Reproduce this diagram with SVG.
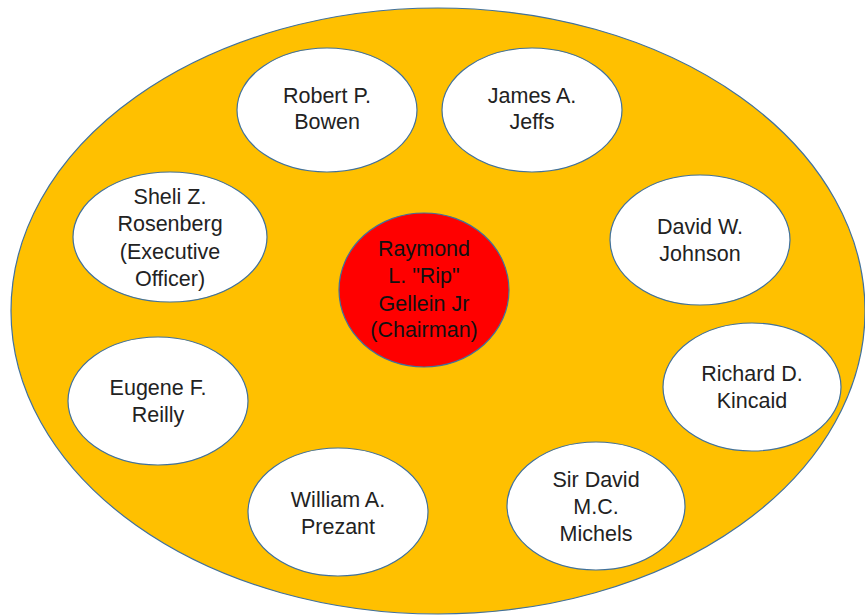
<svg xmlns="http://www.w3.org/2000/svg" width="865" height="615" viewBox="0 0 865 615">
<style>
.bg{fill:#ffffff}
.outer{fill:#FFC000;stroke:#41719C;stroke-width:1.2}
.member{fill:#ffffff;stroke:#41719C;stroke-width:1.2}
.chair{fill:#FF0000;stroke:#41719C;stroke-width:1.2}
text{font-family:"Liberation Sans",Arial,sans-serif;font-size:21.5px;fill:#222222;text-anchor:middle}
.chair-text{fill:#111111}
</style>
<rect class="bg" x="0" y="0" width="865" height="615"/>
<g id="board">
<ellipse class="outer" cx="438" cy="311" rx="427" ry="303"/>
</g>
<g id="node-bowen">
<ellipse class="member" cx="327" cy="110" rx="90" ry="62"/>
<text x="327" y="103">Robert P.</text>
<text x="327" y="129">Bowen</text>
</g>
<g id="node-jeffs">
<ellipse class="member" cx="532" cy="110" rx="90" ry="62"/>
<text x="532" y="103">James A.</text>
<text x="532" y="129">Jeffs</text>
</g>
<g id="node-rosenberg">
<ellipse class="member" cx="170" cy="237" rx="97" ry="65"/>
<text x="170" y="204">Sheli Z.</text>
<text x="170" y="231">Rosenberg</text>
<text x="170" y="259">(Executive</text>
<text x="170" y="286">Officer)</text>
</g>
<g id="node-johnson">
<ellipse class="member" cx="700" cy="240" rx="90" ry="65"/>
<text x="700" y="234">David W.</text>
<text x="700" y="261">Johnson</text>
</g>
<g id="node-gellein">
<ellipse class="chair" cx="424" cy="290" rx="85" ry="77"/>
<text class="chair-text" x="424" y="256">Raymond</text>
<text class="chair-text" x="424" y="283">L. "Rip"</text>
<text class="chair-text" x="424" y="311">Gellein Jr</text>
<text class="chair-text" x="424" y="337">(Chairman)</text>
</g>
<g id="node-reilly">
<ellipse class="member" cx="158" cy="401" rx="90" ry="64"/>
<text x="158" y="395">Eugene F.</text>
<text x="158" y="422">Reilly</text>
</g>
<g id="node-kincaid">
<ellipse class="member" cx="752" cy="387" rx="89" ry="64"/>
<text x="752" y="381">Richard D.</text>
<text x="752" y="408">Kincaid</text>
</g>
<g id="node-prezant">
<ellipse class="member" cx="338" cy="512" rx="90" ry="64"/>
<text x="338" y="507">William A.</text>
<text x="338" y="534">Prezant</text>
</g>
<g id="node-michels">
<ellipse class="member" cx="596" cy="506" rx="89" ry="64"/>
<text x="596" y="487">Sir David</text>
<text x="596" y="514">M.C.</text>
<text x="596" y="541">Michels</text>
</g>
</svg>
